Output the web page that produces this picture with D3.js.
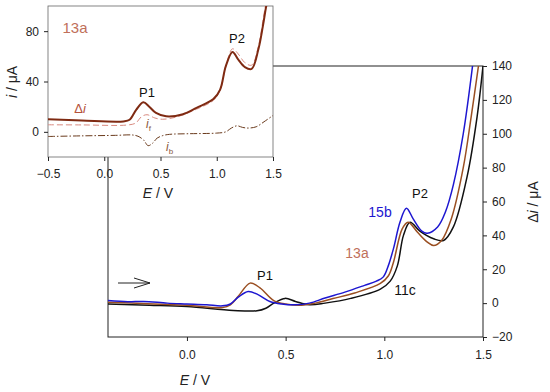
<!DOCTYPE html>
<html>
<head>
<meta charset="utf-8">
<script src="https://d3js.org/d3.v7.min.js"></script>
<style>
  body { margin: 0; background: #fff; }
  svg { font-family: "Liberation Sans", Arial, sans-serif; }
  .axis text { font-size: 12px; fill: #222; font-family: "Liberation Sans", Arial, sans-serif; }
  .axis path, .axis line { stroke: #222; }
</style>
</head>
<body>
<div id="chart"></div>
<script>
// main panel: differential current (Δi / µA) vs E / V
const mainTicksX = [0.0, 0.5, 1.0, 1.5];
const mainTicksY = [-20, 0, 20, 40, 60, 80, 100, 120, 140];

const e15b = [-0.4, -0.3, -0.22, -0.1, 0.0, 0.1, 0.18, 0.22, 0.26, 0.31, 0.36, 0.42, 0.48, 0.55, 0.62, 0.7, 0.8, 0.9, 0.96, 0.995, 1.02, 1.046, 1.08, 1.112, 1.147, 1.19, 1.218, 1.27, 1.31, 1.35, 1.4, 1.447];
const v15b = [1.5, 0.8, 1.0, 0.0, -0.5, -1.0, -1.6, -0.5, 3.5, 6.9, 5.0, 1.0, -0.5, -1.0, 0.0, 3.0, 6.5, 10.5, 13.0, 15.5, 22, 32, 48, 56, 49.6, 42.5, 41.3, 45, 54, 70, 100, 140];

const e13a = [-0.4, -0.2, 0.0, 0.18, 0.22, 0.26, 0.32, 0.37, 0.44, 0.5, 0.58, 0.65, 0.74, 0.85, 0.98, 1.02, 1.046, 1.09, 1.12, 1.167, 1.218, 1.25, 1.29, 1.34, 1.4, 1.44, 1.477];
const v13a = [0.5, -0.3, -1.3, -2.6, -1.0, 4.0, 11.8, 9.0, 1.5, -0.5, -1.2, 0.0, 2.7, 6.0, 11.6, 16, 24, 43.7, 47.8, 42, 36, 34, 37, 50, 80, 110, 140];

const e11c = [-0.4, -0.19, 0.0, 0.235, 0.355, 0.4, 0.44, 0.497, 0.55, 0.62, 0.7, 0.83, 0.98, 1.03, 1.066, 1.097, 1.13, 1.18, 1.25, 1.3, 1.35, 1.42, 1.47, 1.5];
const v11c = [-0.5, -1.2, -2.0, -4.3, -4.5, -3.0, 0.0, 2.8, 1.0, -1.0, 0.0, 2.8, 8.3, 13.0, 22, 40, 47.8, 42.5, 38, 37, 45, 75, 110, 140];

// inset: 13a forward, backward and difference currents (i / µA)
const insetTicksX = [-0.5, 0.0, 0.5, 1.0, 1.5];
const insetTicksY = [0, 40, 80];

const eDi = [-0.5, -0.2, 0.17, 0.225, 0.285, 0.347, 0.4, 0.46, 0.55, 0.7, 0.82, 0.97, 1.03, 1.08, 1.14, 1.19, 1.25, 1.31, 1.37, 1.41, 1.44, 1.47];
const vDi = [10, 9, 8.3, 9.6, 17.6, 23.5, 20, 15, 12.3, 14, 19, 26, 33.6, 52, 63.5, 57.6, 51.5, 50, 65.6, 84, 100, 112];

const eIf = [-0.5, -0.2, 0.2, 0.28, 0.33, 0.38, 0.45, 0.52, 0.65, 0.82, 0.97, 1.03, 1.08, 1.14, 1.19, 1.25, 1.31, 1.37, 1.41, 1.44, 1.47];
const vIf = [5.6, 5.5, 5.4, 7, 12, 13.6, 11, 10, 12, 18, 25, 33, 52, 66, 62, 55, 53, 68, 88, 104, 116];

const eIb = [-0.5, -0.2, 0.1, 0.25, 0.3, 0.35, 0.39, 0.43, 0.47, 0.52, 0.58, 0.75, 1.0, 1.08, 1.13, 1.18, 1.23, 1.28, 1.35, 1.42, 1.5];
const vIb = [-3.7, -3.2, -2.8, -2.5, -3.5, -6.5, -11, -9, -5, -3, -2, -1.5, -1, 0, 3, 4.8, 3.5, 3, 4, 8, 13];

const zip = (xs, ys) => xs.map((x, i) => ({ x, y: ys[i] }));

const W = 550, H = 392;
const svg = d3.select('#chart').append('svg')
  .attr('width', W).attr('height', H)
  .attr('viewBox', `0 0 ${W} ${H}`);

// ---- main panel ----
const mx = d3.scaleLinear().domain([-0.4, 1.5]).range([108, 483]);
const my = d3.scaleLinear().domain([-20, 140]).range([337, 66]);

const mainG = svg.append('g');

mainG.append('rect')
  .attr('x', mx.range()[0]).attr('y', my.range()[1])
  .attr('width', mx.range()[1] - mx.range()[0])
  .attr('height', my.range()[0] - my.range()[1])
  .attr('fill', 'none').attr('stroke', '#222').attr('stroke-width', 1);

mainG.append('g').attr('class', 'axis')
  .attr('transform', `translate(0,${my.range()[0]})`)
  .call(d3.axisBottom(mx).tickValues(mainTicksX).tickFormat(d3.format('.1f')).tickSize(4).tickPadding(9))
  .call(g => g.select('.domain').remove());

mainG.append('g').attr('class', 'axis')
  .attr('transform', `translate(${mx.range()[1]},0)`)
  .call(d3.axisRight(my).tickValues(mainTicksY).tickSize(4).tickPadding(5))
  .call(g => g.select('.domain').remove());

svg.append('clipPath').attr('id', 'mainClip').append('rect')
  .attr('x', 108).attr('y', 66).attr('width', 375).attr('height', 271);

const mainLine = d3.line().x(d => mx(d.x)).y(d => my(d.y)).curve(d3.curveCatmullRom.alpha(0.5));

const mainSeries = [
  { data: zip(e11c, v11c), color: '#111111' },
  { data: zip(e13a, v13a), color: '#9a4f22' },
  { data: zip(e15b, v15b), color: '#1d16d0' }
];
mainG.append('g').attr('clip-path', 'url(#mainClip)')
  .selectAll('path').data(mainSeries).join('path')
  .attr('d', d => mainLine(d.data))
  .attr('fill', 'none').attr('stroke', d => d.color).attr('stroke-width', 1.5);

const label = (g, x, y, txt, color, size = 14) => g.append('text')
  .attr('x', x).attr('y', y).attr('fill', color)
  .attr('font-size', size).attr('text-anchor', 'middle').text(txt);

label(mainG, 380, 217, '15b', '#1d16d0');
label(mainG, 420, 198, 'P2', '#111', 13);
label(mainG, 357, 258, '13a', '#c0705a');
label(mainG, 405, 295, '11c', '#111');
label(mainG, 265, 280, 'P1', '#111', 13);

// scan direction arrow
mainG.append('path')
  .attr('d', 'M118,283 L150,283 M134,278 L150,283 L134,288')
  .attr('fill', 'none').attr('stroke', '#222').attr('stroke-width', 1);

const xl = mainG.append('text').attr('x', 195).attr('y', 385)
  .attr('text-anchor', 'middle').attr('font-size', 14).attr('fill', '#222');
xl.append('tspan').attr('font-style', 'italic').text('E');
xl.append('tspan').text(' / V');

const yl = mainG.append('text')
  .attr('transform', 'translate(538,202) rotate(-90)')
  .attr('text-anchor', 'middle').attr('font-size', 14).attr('fill', '#222');
yl.append('tspan').text('Δ');
yl.append('tspan').attr('font-style', 'italic').text('i');
yl.append('tspan').text(' / μA');

// ---- inset ----
const ix = d3.scaleLinear().domain([-0.5, 1.5]).range([48, 273]);
const iy = d3.scaleLinear().domain([-20, 100]).range([157, 6]);

const inG = svg.append('g');

inG.append('rect')
  .attr('x', 48).attr('y', 6).attr('width', 225).attr('height', 151)
  .attr('fill', '#fff').attr('stroke', '#666').attr('stroke-width', 0.8);

inG.append('g').attr('class', 'axis')
  .attr('transform', 'translate(0,157)')
  .call(d3.axisBottom(ix).tickValues(insetTicksX).tickFormat(d3.format('.1f')).tickSize(4).tickPadding(8))
  .call(g => g.select('.domain').remove());

inG.append('g').attr('class', 'axis')
  .attr('transform', 'translate(48,0)')
  .call(d3.axisLeft(iy).tickValues(insetTicksY).tickSize(4).tickPadding(5))
  .call(g => g.select('.domain').remove());

svg.append('clipPath').attr('id', 'inClip').append('rect')
  .attr('x', 48).attr('y', 6).attr('width', 225).attr('height', 151);

const inLine = d3.line().x(d => ix(d.x)).y(d => iy(d.y)).curve(d3.curveCatmullRom.alpha(0.5));
const inPlot = inG.append('g').attr('clip-path', 'url(#inClip)');

inPlot.append('path').attr('d', inLine(zip(eIf, vIf)))
  .attr('fill', 'none').attr('stroke', '#d98a80').attr('stroke-width', 1)
  .attr('stroke-dasharray', '6 3');
inPlot.append('path').attr('d', inLine(zip(eIb, vIb)))
  .attr('fill', 'none').attr('stroke', '#6a3a1c').attr('stroke-width', 1)
  .attr('stroke-dasharray', '7 2 1.5 2');
inPlot.append('path').attr('d', inLine(zip(eDi, vDi)))
  .attr('fill', 'none').attr('stroke', '#7f2a12').attr('stroke-width', 2);

label(inG, 75, 33, '13a', '#c0705a', 15);
label(inG, 147, 97, 'P1', '#111', 13);
label(inG, 237, 43, 'P2', '#111', 13);

const di = inG.append('text').attr('x', 80).attr('y', 113).attr('text-anchor', 'middle')
  .attr('font-size', 13).attr('fill', '#b5523b');
di.append('tspan').text('Δ');
di.append('tspan').attr('font-style', 'italic').text('i');

const sub = (x, y, s) => {
  const t = inG.append('text').attr('x', x).attr('y', y)
    .attr('font-size', 12).attr('fill', '#8a5a3c');
  t.append('tspan').attr('font-style', 'italic').text('i');
  t.append('tspan').attr('font-size', 8).attr('dy', 3).text(s);
};
sub(146, 128, 'f');
sub(166, 151, 'b');

const ixl = inG.append('text').attr('x', 158).attr('y', 198)
  .attr('text-anchor', 'middle').attr('font-size', 14).attr('fill', '#222');
ixl.append('tspan').attr('font-style', 'italic').text('E');
ixl.append('tspan').text(' / V');

const iyl = inG.append('text')
  .attr('transform', 'translate(17,82) rotate(-90)')
  .attr('text-anchor', 'middle').attr('font-size', 14).attr('fill', '#222');
iyl.append('tspan').attr('font-style', 'italic').text('i');
iyl.append('tspan').text(' / μA');
</script>
</body>
</html>
